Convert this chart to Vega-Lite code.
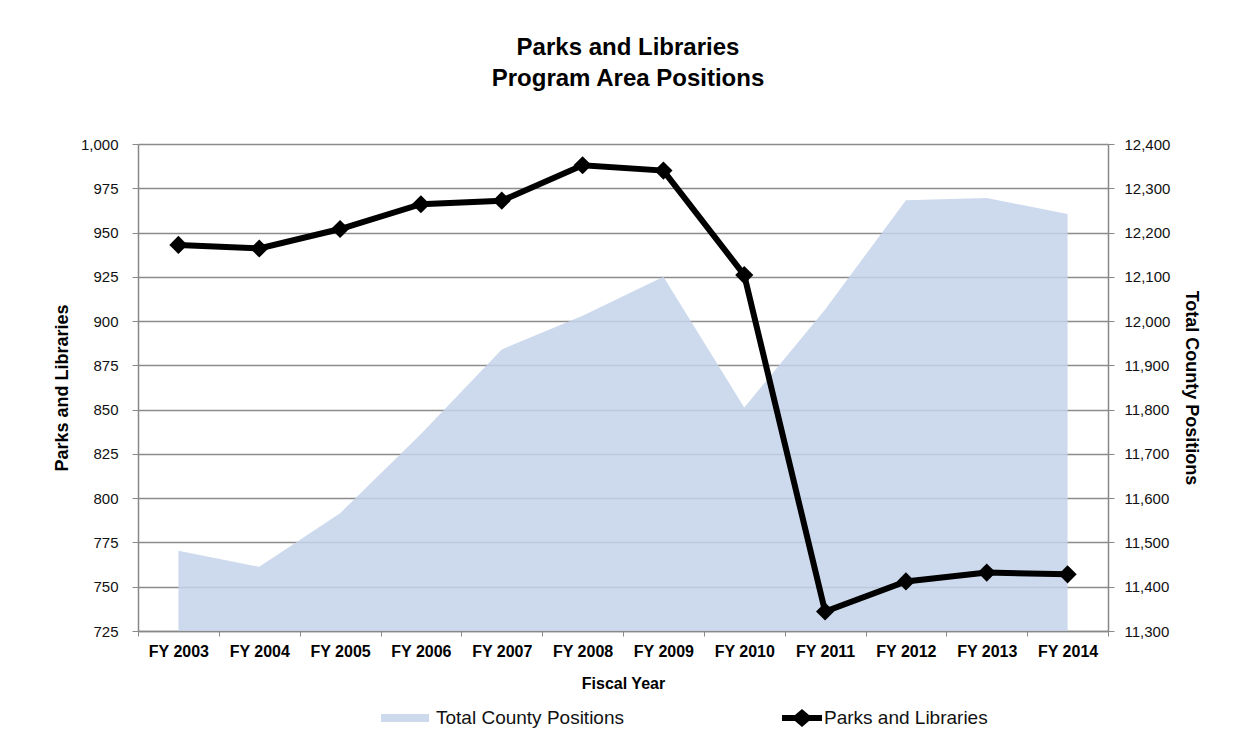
{
  "$schema": "https://vega.github.io/schema/vega-lite/v6.json",
  "width": 970,
  "height": 487,
  "autosize": "none",
  "padding": {"left": 138, "top": 144, "right": 144, "bottom": 118},
  "background": "white",
  "data": {
    "values": [
      {"year": "FY 2003", "parks": 943, "county": 11481},
      {"year": "FY 2004", "parks": 941, "county": 11445},
      {"year": "FY 2005", "parks": 952, "county": 11566},
      {"year": "FY 2006", "parks": 966, "county": 11745},
      {"year": "FY 2007", "parks": 968, "county": 11936},
      {"year": "FY 2008", "parks": 988, "county": 12012},
      {"year": "FY 2009", "parks": 985, "county": 12100},
      {"year": "FY 2010", "parks": 926, "county": 11805},
      {"year": "FY 2011", "parks": 736, "county": 12026},
      {"year": "FY 2012", "parks": 753, "county": 12273},
      {"year": "FY 2013", "parks": 758, "county": 12278},
      {"year": "FY 2014", "parks": 757, "county": 12242}
    ]
  },
  "title": {
    "text": ["Parks and Libraries", "Program Area Positions"],
    "font": "Liberation Sans, Arial, sans-serif",
    "fontSize": 24,
    "fontWeight": "bold",
    "lineHeight": 31,
    "color": "black",
    "anchor": "middle",
    "offset": 46,
    "dx": 5
  },
  "encoding": {
    "x": {
      "field": "year",
      "type": "nominal",
      "sort": null,
      "scale": {"type": "band", "paddingInner": 0, "paddingOuter": 0},
      "axis": {
        "title": "Fiscal Year",
        "titleFont": "Liberation Sans, Arial, sans-serif",
        "titleFontSize": 16,
        "titleFontWeight": "bold",
        "titleColor": "black",
        "titlePadding": 16,
        "labelAngle": 0,
        "labelFont": "Liberation Sans, Arial, sans-serif",
        "labelFontSize": 16,
        "labelFontWeight": "bold",
        "labelColor": "black",
        "labelPadding": 7,
        "tickBand": "extent",
        "tickSize": 5,
        "tickColor": "#888888",
        "domainColor": "#888888",
        "domainWidth": 1.5,
        "grid": false
      }
    }
  },
  "layer": [
    {
      "mark": {"type": "area", "opacity": 0.85},
      "encoding": {
        "y": {
          "field": "county",
          "type": "quantitative",
          "scale": {"domain": [11300, 12400], "zero": false, "nice": false},
          "axis": {
            "orient": "right",
            "values": [11300, 11400, 11500, 11600, 11700, 11800, 11900, 12000, 12100, 12200, 12300, 12400],
            "format": ",.0f",
            "grid": false,
            "title": "Total County Positions",
            "titleFont": "Liberation Sans, Arial, sans-serif",
            "titleFontSize": 18,
            "titleFontWeight": "bold",
            "titleColor": "black",
            "titlePadding": 12,
            "labelFont": "Liberation Sans, Arial, sans-serif",
            "labelFontSize": 15,
            "labelColor": "#111111",
            "labelPadding": 10,
            "tickSize": 6,
            "tickColor": "#888888",
            "domainColor": "#888888",
            "domainWidth": 1.5
          }
        },
        "y2": {"datum": 11300},
        "fill": {
          "datum": "Total County Positions",
          "scale": {"range": ["#c4d3ea"]},
          "legend": {
            "orient": "none",
            "legendX": 242,
            "legendY": 549,
            "title": null,
            "symbolType": "M-1,-0.17H1V0.17H-1Z",
            "symbolSize": 2304,
            "labelFont": "Liberation Sans, Arial, sans-serif",
            "labelFontSize": 19,
            "labelColor": "#111111",
            "labelOffset": 6,
            "labelLimit": 0
          }
        }
      }
    },
    {
      "mark": {
        "type": "line",
        "strokeWidth": 6,
        "point": {"shape": "diamond", "size": 330, "filled": true, "color": "black", "opacity": 1}
      },
      "encoding": {
        "y": {
          "field": "parks",
          "type": "quantitative",
          "scale": {"domain": [725, 1000], "zero": false, "nice": false},
          "axis": {
            "orient": "left",
            "values": [725, 750, 775, 800, 825, 850, 875, 900, 925, 950, 975, 1000],
            "format": ",.0f",
            "grid": true,
            "gridColor": "#8c8c8c",
            "gridWidth": 1.3,
            "title": "Parks and Libraries",
            "titleFont": "Liberation Sans, Arial, sans-serif",
            "titleFontSize": 18,
            "titleFontWeight": "bold",
            "titleColor": "black",
            "titlePadding": 9,
            "labelFont": "Liberation Sans, Arial, sans-serif",
            "labelFontSize": 15,
            "labelColor": "#111111",
            "labelPadding": 14,
            "tickSize": 6,
            "tickColor": "#888888",
            "domainColor": "#888888",
            "domainWidth": 1.5
          }
        },
        "color": {
          "datum": "Parks and Libraries",
          "scale": {"range": ["black"]},
          "legend": {
            "orient": "none",
            "legendX": 644,
            "legendY": 554,
            "title": null,
            "symbolType": "M-1,-0.15H-0.35L0,-0.45L0.35,-0.15H1V0.15H0.35L0,0.45L-0.35,0.15H-1Z",
            "symbolSize": 1600,
            "labelFont": "Liberation Sans, Arial, sans-serif",
            "labelFontSize": 19,
            "labelColor": "#111111",
            "labelOffset": 2,
            "labelLimit": 0,
            "symbolFillColor": "black",
            "symbolStrokeWidth": 0
          }
        }
      }
    }
  ],
  "resolve": {"scale": {"y": "independent"}}
}
